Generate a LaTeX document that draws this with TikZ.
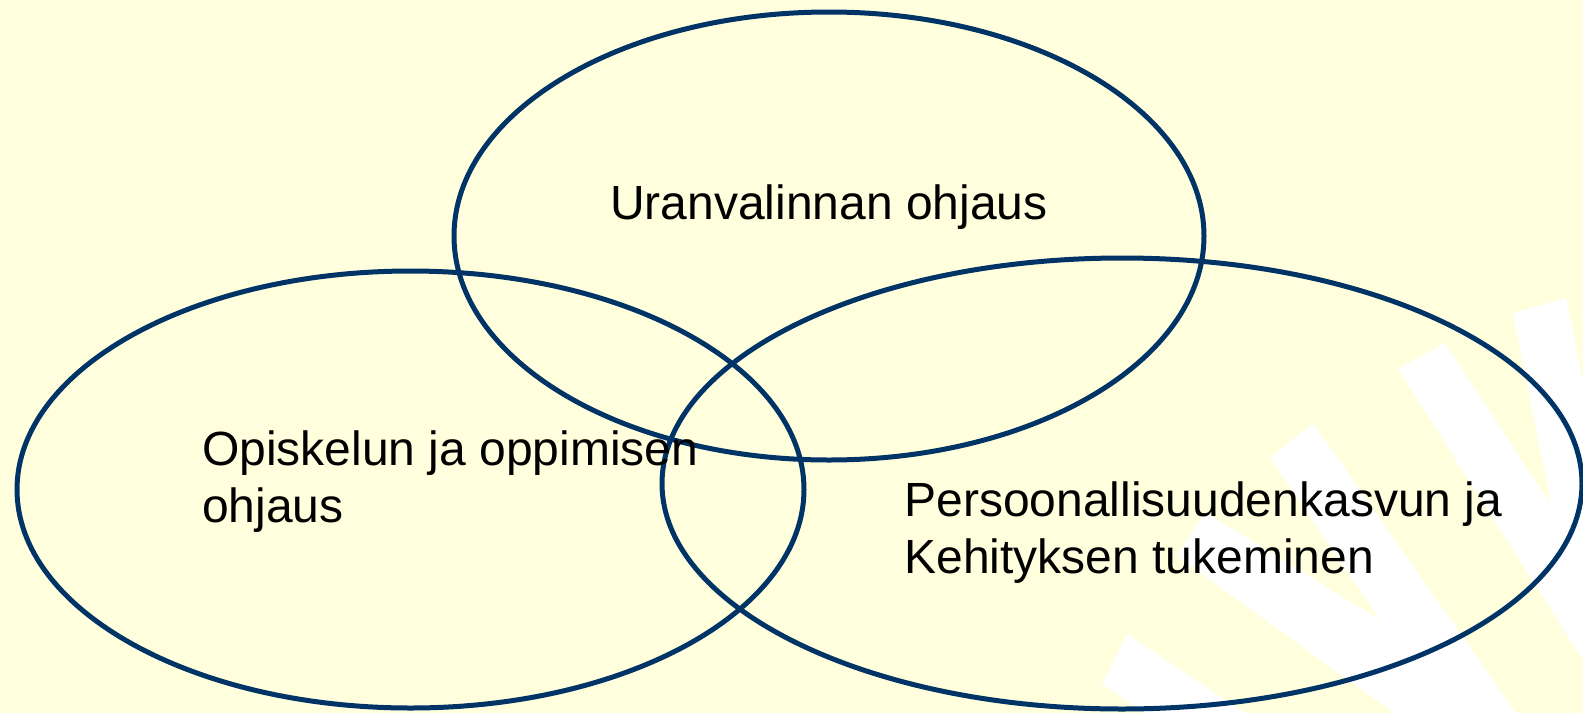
\documentclass[tikz,border=0pt]{standalone}
\usepackage{fontspec}
\setmainfont{Liberation Sans}
\usetikzlibrary{shapes.geometric}
\definecolor{bgyellow}{HTML}{FFFFDD}
\definecolor{ringblue}{HTML}{003366}
\tikzset{
  ring/.style={ellipse, draw=ringblue, line width=5pt, inner sep=0pt, fill=none},
  lbl/.style={inner sep=0pt, outer sep=0pt, anchor=base west, align=left,
    font=\fontsize{48pt}{56.7pt}\selectfont, text=black},
  ray/.style={fill=white, draw=none}
}
\begin{document}
\begin{tikzpicture}[x=1pt,y=-1pt]
  \useasboundingbox (0,0) rectangle (1583,713);
  \fill[bgyellow] (0,0) rectangle (1583,713);
  % white watermark rays
  \fill[ray] (1398,369) -- (1445,343) -- (1551,505) -- (1513,313) -- (1566,298)
             -- (1583,383) -- (1583,660) -- cycle;
  \fill[ray] (1270,458) -- (1313,423) -- (1516,713) -- (1394,713)
             -- (1177,556) -- (1205,512) -- (1380,620) -- cycle;
  \fill[ray] (1102,684) -- (1127,634) -- (1245,713) -- (1145,713) -- cycle;
  % circles of the diagram
  \node[ring, minimum width=750pt, minimum height=448pt] (uran) at (829,236) {};
  \node[ring, minimum width=787pt, minimum height=437pt] (opis) at (410.5,489.5) {};
  \node[ring, minimum width=920pt, minimum height=451pt] (pers) at (1122,483.5) {};
  % labels (base anchor = baseline of the last line)
  \node[lbl] (turan) at (610,219) {Uranvalinnan ohjaus};
  \node[lbl] (topis) at (202,522) {Opiskelun ja oppimisen\\ohjaus};
  \node[lbl] (tpers) at (904.5,573.5) {Persoonallisuudenkasvun ja\\Kehityksen tukeminen};
\end{tikzpicture}
\end{document}
